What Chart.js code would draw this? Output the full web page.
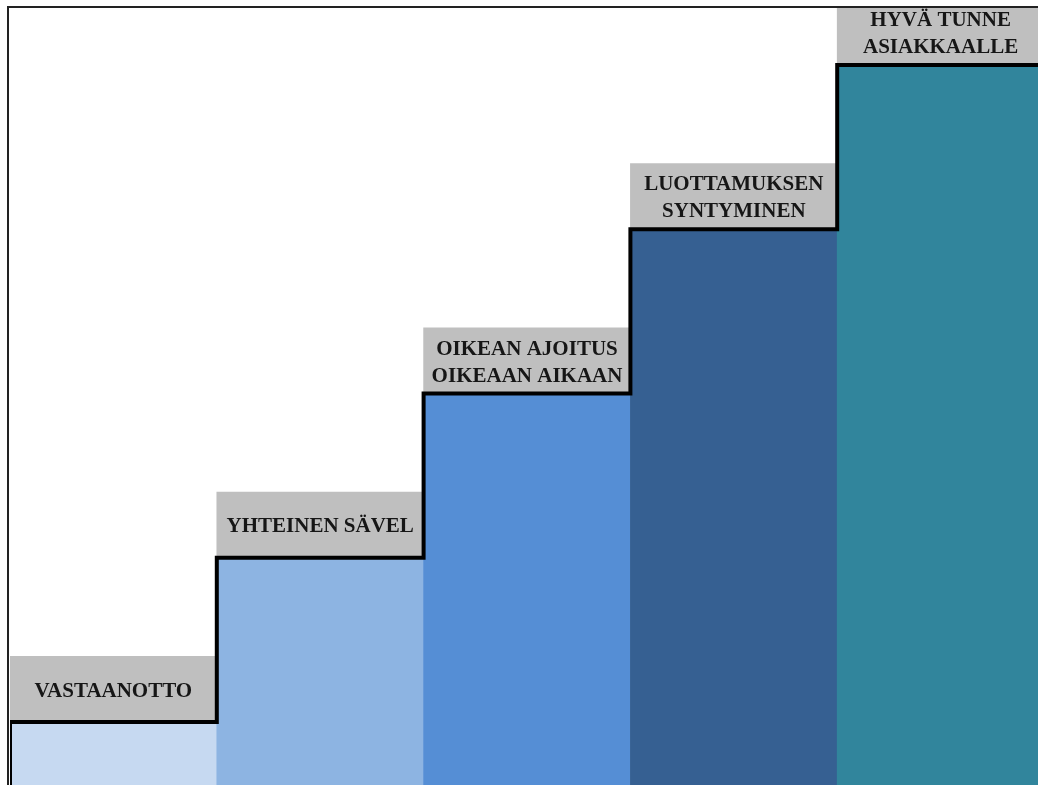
<!DOCTYPE html>
<html>
<head>
<meta charset="utf-8">
<script src="https://cdn.jsdelivr.net/npm/chart.js@4"></script>
<style>
  html, body { margin: 0; padding: 0; background: #fff; overflow: hidden; }
  #wrap { width: 1044px; height: 785px; position: relative; }
</style>
</head>
<body>
<div id="wrap"><canvas id="chart"></canvas></div>
<script>
// steps of the stair, bottom to top
var stepLabels = [
	['VASTAANOTTO'],
	['YHTEINEN SÄVEL'],
	['OIKEAN AJOITUS', 'OIKEAAN AIKAAN'],
	['LUOTTAMUKSEN', 'SYNTYMINEN'],
	['HYVÄ TUNNE', 'ASIAKKAALLE']
];
var stepValues = [1, 2, 3, 4, 5];
var stepColors = ['#C6D9F1', '#8DB4E2', '#558ED5', '#366092', '#31859C'];
var labelBoxHeight = 0.4;
var yMin = 0.6164;
var yMax = 5.347;

// stair outline: up the left edge of every step, then across its top
var outline = [{x: 0, y: yMin}];
for (var i = 0; i < stepValues.length; i++) {
	outline.push({x: i, y: stepValues[i]});
	outline.push({x: i + 1, y: stepValues[i]});
}

var labelPlugin = {
	id: 'stepLabels',
	afterDatasetsDraw: function(chart) {
		var ctx = chart.ctx;
		var meta = chart.getDatasetMeta(1);
		ctx.save();
		ctx.font = 'bold 21px "Liberation Serif", serif';
		ctx.fillStyle = '#161616';
		ctx.textAlign = 'center';
		ctx.textBaseline = 'middle';
		var lh = 27;
		meta.data.forEach(function(el, idx) {
			var lines = stepLabels[idx];
			var cy = (el.y + el.base) / 2 + 2;
			var y0 = cy - (lines.length - 1) * lh / 2;
			for (var j = 0; j < lines.length; j++) {
				ctx.fillText(lines[j], el.x, y0 + j * lh);
			}
		});
		ctx.restore();
	}
};

var framePlugin = {
	id: 'frame',
	afterDraw: function(chart) {
		var a = chart.chartArea;
		var ctx = chart.ctx;
		ctx.save();
		ctx.strokeStyle = '#222';
		ctx.lineWidth = 2;
		ctx.beginPath();
		ctx.moveTo(a.left - 2, a.bottom);
		ctx.lineTo(a.left - 2, a.top - 1);
		ctx.lineTo(a.right, a.top - 1);
		ctx.stroke();
		ctx.restore();
	}
};

var chartObj = new Chart(document.getElementById('chart'), {
	type: 'bar',
	data: {
		labels: stepLabels.map(function(l) { return l.join(' '); }),
		datasets: [
			{
				data: stepValues,
				backgroundColor: stepColors,
				grouped: false,
				barPercentage: 1,
				categoryPercentage: 1,
				borderWidth: 0,
				order: 2
			},
			{
				data: stepValues.map(function(v) { return [v, v + labelBoxHeight]; }),
				backgroundColor: '#BFBFBF',
				grouped: false,
				barPercentage: 1,
				categoryPercentage: 1,
				borderWidth: 0,
				order: 1
			},
			{
				type: 'line',
				data: outline,
				xAxisID: 'x2',
				borderColor: '#000',
				borderWidth: 4,
				pointRadius: 0,
				fill: false,
				tension: 0,
				borderJoinStyle: 'miter',
				borderCapStyle: 'butt',
				order: 0
			}
		]
	},
	options: {
		responsive: true,
		maintainAspectRatio: false,
		animation: false,
		devicePixelRatio: 1,
		layout: { padding: { left: 10, top: 8, right: 0, bottom: 0 } },
		plugins: { legend: { display: false }, tooltip: { enabled: false } },
		scales: {
			x: { display: false },
			x2: { type: 'linear', min: 0, max: 5, offset: false, grid: { offset: false }, display: false },
			y: { display: false, min: yMin, max: yMax }
		}
	},
	plugins: [labelPlugin, framePlugin]
});
</script>
</body>
</html>
